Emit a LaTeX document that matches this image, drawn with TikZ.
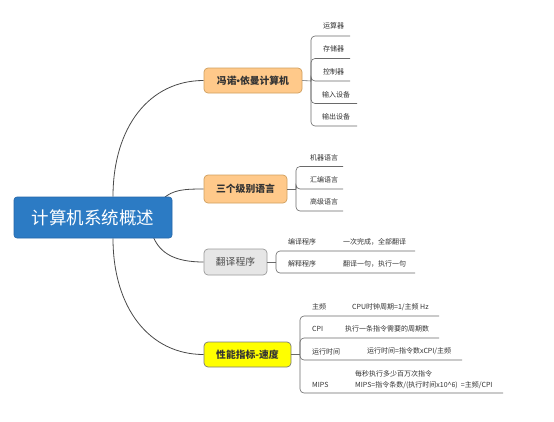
\documentclass[tikz,border=0pt]{standalone}
\usepackage{fontspec}
\setmainfont{Noto Sans CJK SC}
\newfontfamily\dotfont{Liberation Sans}
\usetikzlibrary{calc}
\pgfdeclarelayer{bg}
\pgfsetlayers{bg,main}
\definecolor{rootblue}{HTML}{2C7BC4}
\definecolor{rootedge}{HTML}{2566A8}
\definecolor{orfill}{HTML}{FFC98A}
\definecolor{oredge}{HTML}{CF9F5E}
\definecolor{gyfill}{HTML}{E6E6E6}
\definecolor{gyedge}{HTML}{9A9A9A}
\definecolor{ylfill}{HTML}{FFFF00}
\definecolor{yledge}{HTML}{7A7A7A}
\definecolor{linec}{HTML}{4A4A4A}
\definecolor{bracc}{HTML}{6A6A6A}
\definecolor{txtc}{HTML}{333333}
\tikzset{
  rootbox/.style={rectangle, rounded corners=3pt, fill=rootblue, draw=rootedge, line width=0.6pt,
    minimum width=158pt, minimum height=41pt, inner sep=0pt, text=white,
    font=\fontsize{17.5}{20}\selectfont},
  mainbox/.style={rectangle, rounded corners=4pt, line width=0.7pt, inner sep=0pt,
    minimum height=25pt, text=txtc, font=\fontsize{9.8}{12}\selectfont\bfseries},
  orbox/.style={mainbox, fill=orfill, draw=oredge},
  gybox/.style={mainbox, fill=gyfill, draw=gyedge, text=black!70, font=\fontsize{9.8}{12}\selectfont},
  ylbox/.style={mainbox, fill=ylfill, draw=yledge},
  curve/.style={draw=linec, line width=0.8pt},
  branch/.style={draw=bracc, line width=0.6pt},
  elbow/.style={draw=bracc, line width=0.6pt, rounded corners=4pt},
  ctext/.style={anchor=west, inner sep=0pt, text=txtc, font=\fontsize{7}{8.5}\selectfont},
}
\begin{document}
\begin{tikzpicture}[x=1pt,y=-1pt]
\useasboundingbox (0,0) rectangle (554,421);

% main nodes
\node[rootbox] (root) at (93,217.5) {计算机系统概述};
\node[orbox, minimum width=98pt] (n1) at (253,80.5) {冯诺{\dotfont\bfseries •}依曼计算机};
\node[orbox, minimum width=83pt, minimum height=28pt] (n2) at (245.5,189) {三个级别语言};
\node[gybox, minimum width=63pt, minimum height=26pt] (n3) at (235.5,262) {翻译程序};
\node[ylbox, minimum width=87pt] (n4) at (247.5,354.5) {性能指标-速度};

% curves from root
\begin{pgfonlayer}{bg}
\fill[white] (0,0) rectangle (554,421);
\draw[curve] ($(root.north)+(20,0)$) .. controls +(0,-70) and +(-54,0) .. (n1.west);
\draw[curve] ($(root.north)+(70,2)$) .. controls +(10,-9) and +(-20,0) .. (n2.west);
\draw[curve] ($(root.south)+(60,-2)$) .. controls +(7,17) and +(-29,0) .. (n3.west);
\draw[curve] ($(root.south)+(20,0)$) .. controls +(0,70) and +(-54,0) .. (n4.west);
\end{pgfonlayer}

% ---- branch 1
\coordinate (j1) at (311,81);
\draw[branch] (n1.east) -- (j1);
\node[ctext] (a1) at (323,26) {运算器};
\node[ctext] (a2) at (323,48.5) {存储器};
\node[ctext] (a3) at (323,72) {控制器};
\node[ctext] (a4) at (322,94.5) {输入设备};
\node[ctext] (a5) at (322,117) {输出设备};
\coordinate (ua1) at (350,36);
\coordinate (ua2) at (350,58.5);
\coordinate (ua3) at (350,81);
\coordinate (ua4) at (357,103.5);
\coordinate (ua5) at (357,126);
\foreach \u in {ua1,ua2,ua3,ua4,ua5} \draw[elbow] (j1) |- (\u);

% ---- branch 2
\coordinate (j2) at (296,189);
\draw[branch] (n2.east) -- (j2);
\node[ctext] (b1) at (310,157.5) {机器语言};
\node[ctext] (b2) at (310,180) {汇编语言};
\node[ctext] (b3) at (310,202) {高级语言};
\coordinate (ub1) at (343,166.5);
\coordinate (ub2) at (343,189);
\coordinate (ub3) at (343,211);
\foreach \u in {ub1,ub2,ub3} \draw[elbow] (j2) |- (\u);

% ---- branch 3
\coordinate (j3) at (276,262);
\draw[branch] (n3.east) -- (j3);
\node[ctext] (c1) at (288,242) {编译程序};
\node[ctext] (c1d) at (343,242) {一次完成，全部翻译};
\node[ctext] (c2) at (288,264) {解释程序};
\node[ctext] (c2d) at (343,264) {翻译一句，执行一句};
\coordinate (uc1) at (415,251);
\coordinate (uc2) at (415,273);
\foreach \u in {uc1,uc2} \draw[elbow] (j3) |- (\u);

% ---- branch 4
\coordinate (j4) at (300,354.5);
\draw[branch] (n4.east) -- (j4);
\node[ctext] (d1) at (312,307) {主频};
\node[ctext] (d1d) at (352,307) {CPU时钟周期=1/主频 Hz};
\node[ctext] (d2) at (312,329) {CPI};
\node[ctext] (d2d) at (345,329) {执行一条指令需要的周期数};
\node[ctext] (d3) at (312,351.5) {运行时间};
\node[ctext] (d3d) at (367,351.5) {运行时间=指令数xCPI/主频};
\node[ctext] (d4) at (312,385) {MIPS};
\node[ctext] (d4a) at (355,373.5) {每秒执行多少百万次指令};
\node[ctext] (d4d) at (355,385) {MIPS=指令条数/(执行时间x10\^{}6)\ \ =主频/CPI};
\coordinate (ud1) at (439,316);
\coordinate (ud2) at (439,338);
\coordinate (ud3) at (462,360);
\coordinate (ud4) at (503,393);
\foreach \u in {ud1,ud2,ud3,ud4} \draw[elbow] (j4) |- (\u);
\end{tikzpicture}
\end{document}
